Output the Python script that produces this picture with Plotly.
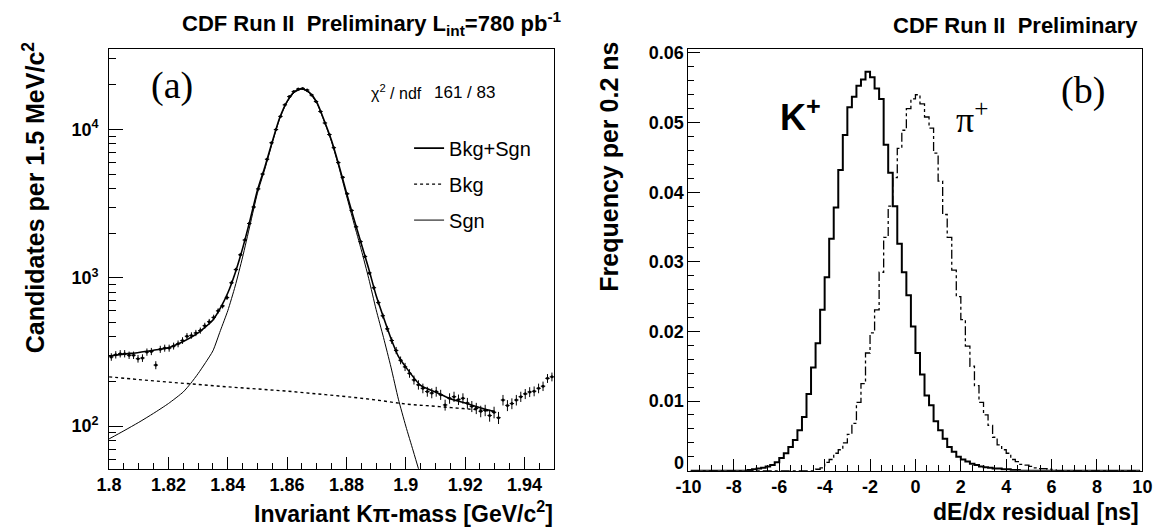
import numpy as np
import plotly.graph_objects as go

# ---------------- (a) D0 -> K pi invariant mass ----------------
mass_lo = 1.8
mass_bw = 0.0015
counts = [293, 303, 308, 308, 301, 301, 285, 288, 316, 319,
          258, 330, 336, 336, 347, 359, 378, 404, 409, 425,
          441, 476, 506, 541, 599, 647, 736, 926, 1137, 1430,
          1800, 2326, 3005, 3981, 5012, 6310, 8150, 10000, 12270, 14680,
          16680, 18030, 18760, 18950, 18480, 17110, 15450, 13240, 11080, 9260,
          7550, 5990, 4770, 3690, 2850, 2210, 1755, 1394, 1080, 858,
          681, 555, 453, 378, 324, 278, 251, 227, 205, 190,
          180, 171, 167, 171, 163, 139, 154, 158, 151, 154,
          143, 136, 132, 126, 128, 118, 124, 114, 150, 138,
          142, 150, 158, 165, 170, 172, 180, 186, 210, 215]

tot_mass = [1.800, 1.805, 1.810, 1.815, 1.820, 1.825, 1.830, 1.835, 1.8375, 1.840,
            1.8425, 1.845, 1.8475, 1.850, 1.8525, 1.855, 1.8575, 1.860, 1.8625, 1.865,
            1.8675, 1.870, 1.8725, 1.875, 1.8775, 1.880, 1.8825, 1.885, 1.8875, 1.890,
            1.8925, 1.895, 1.8975, 1.900, 1.905, 1.910, 1.915, 1.920, 1.925, 1.930]
tot_vals = [297, 306, 314, 325, 338, 372, 425, 520, 625, 790,
            1080, 1580, 2450, 3900, 5600, 8300, 12000, 15500, 18000, 18900,
            17800, 15300, 11500, 8400, 5700, 3750, 2500, 1700, 1150, 760,
            540, 390, 295, 250, 188, 170, 153, 143, 133, 125]

bkg_mass = [1.800, 1.810, 1.820, 1.830, 1.840, 1.850, 1.860, 1.870, 1.880, 1.890,
            1.900, 1.910, 1.920, 1.930]
bkg_vals = [215, 206, 198, 191, 184, 178, 172, 165, 158, 150, 141, 136, 131, 126]

sig_mass = [1.800, 1.805, 1.810, 1.815, 1.820, 1.825, 1.8275, 1.830, 1.8325, 1.835,
            1.8375, 1.840, 1.8425, 1.845, 1.8475, 1.850, 1.8525, 1.855, 1.8575, 1.860,
            1.8625, 1.865, 1.8675, 1.870, 1.8725, 1.875, 1.8775, 1.880, 1.8825, 1.885,
            1.8875, 1.890, 1.8925, 1.895, 1.8975, 1.900, 1.9025, 1.905]
sig_vals = [82, 93, 106, 122, 142, 170, 194, 226, 268, 322,
            440, 600, 880, 1380, 2270, 3720, 5420, 8120, 11820, 15330,
            17830, 18730, 17640, 15040, 11340, 8240, 5540, 3590, 2340, 1545,
            990, 610, 395, 250, 152, 100, 68, 46]

mass_tickvals = [1.8, 1.82, 1.84, 1.86, 1.88, 1.9, 1.92, 1.94]
mass_ticktext = ["1.8", "1.82", "1.84", "1.86", "1.88", "1.9", "1.92", "1.94"]

# ---------------- (b) dE/dx residual ----------------
dedx_lo = -10.0
dedx_bw = 0.2
kaon_freq = [0]*13 + [
    0.0001, 0.0002, 0.0003, 0.0004, 0.0006, 0.0008, 0.0012, 0.0018, 0.0025, 0.0034,
    0.0044, 0.0058, 0.0077, 0.0110, 0.0148, 0.0183, 0.0231, 0.0278, 0.0333, 0.0378,
    0.0432, 0.0482, 0.0522, 0.0537, 0.0553, 0.0562, 0.0573, 0.0565, 0.0549, 0.0534,
    0.0468, 0.0428, 0.0380, 0.0326, 0.0285, 0.0252, 0.0207, 0.0169, 0.0138, 0.0108,
    0.0094, 0.0071, 0.0058, 0.0046, 0.0034, 0.0027, 0.0020, 0.0016, 0.0013, 0.0010,
    0.0008, 0.0006, 0.0005, 0.0004, 0.0003, 0.0003, 0.0002, 0.0002, 0.0001, 0.0001] + [0]*27
pion_freq = [0]*28 + [
    0.0002, 0.0004, 0.0012, 0.0016, 0.0025, 0.0030, 0.0040, 0.0052, 0.0068, 0.0098,
    0.0125, 0.0169, 0.0198, 0.0231, 0.0285, 0.0335, 0.0380, 0.0421, 0.0463, 0.0489,
    0.0520, 0.0534, 0.0540, 0.0527, 0.0508, 0.0492, 0.0456, 0.0416, 0.0368, 0.0335,
    0.0288, 0.0250, 0.0217, 0.0179, 0.0150, 0.0122, 0.0098, 0.0080, 0.0065, 0.0048,
    0.0037, 0.0030, 0.0025, 0.0016, 0.0013, 0.0009, 0.0008, 0.0006, 0.0004, 0.0003,
    0.0003, 0.0002, 0.0001] + [0]*19

dedx_tickvals = [-10, -8, -6, -4, -2, 0, 2, 4, 6, 8, 10]
dedx_ticktext = ["-10", "-8", "-6", "-4", "-2", "0", "2", "4", "6", "8", "10"]
freq_tickvals = [0.01, 0.02, 0.03, 0.04, 0.05, 0.06]
freq_ticktext = ["0.01", "0.02", "0.03", "0.04", "0.05", "0.06"]
freq_zero_label = "0"

# ---------------------------------------------------------------
mass_x = [mass_lo + (i + 0.5) * mass_bw for i in range(len(counts))]
dedx_x = [dedx_lo + (i + 0.5) * dedx_bw for i in range(len(kaon_freq))]

SANS = "Liberation Sans"
SERIF = "Liberation Serif"

fig = go.Figure()

fig.add_trace(go.Scatter(
    x=mass_x, y=counts, mode="markers", showlegend=False,
    marker=dict(color="black", size=3),
    error_y=dict(type="data", array=list(np.sqrt(counts)), color="black", thickness=1, width=0),
    error_x=dict(type="constant", value=mass_bw / 2, color="black", thickness=1, width=0),
    xaxis="x", yaxis="y"))
fig.add_trace(go.Scatter(
    x=tot_mass, y=tot_vals, mode="lines", name="Bkg+Sgn", legendgroup="a",
    line=dict(color="black", width=1.6, shape="spline", smoothing=0.6),
    xaxis="x", yaxis="y"))
fig.add_trace(go.Scatter(
    x=bkg_mass, y=bkg_vals, mode="lines", name="Bkg", legendgroup="b",
    line=dict(color="black", width=1.4, dash="dot", shape="spline"),
    xaxis="x", yaxis="y"))
fig.add_trace(go.Scatter(
    x=sig_mass, y=sig_vals, mode="lines", name="Sgn", legendgroup="c",
    line=dict(color="black", width=1.0, shape="spline", smoothing=0.6),
    xaxis="x", yaxis="y"))

fig.add_trace(go.Scatter(
    x=dedx_x, y=pion_freq, mode="lines", showlegend=False,
    line=dict(color="black", width=1.3, dash="dashdot", shape="hvh"),
    xaxis="x2", yaxis="y2"))
fig.add_trace(go.Scatter(
    x=dedx_x, y=kaon_freq, mode="lines", showlegend=False,
    line=dict(color="black", width=2, shape="hvh"),
    xaxis="x2", yaxis="y2"))

W, H = 1172, 527
def px(x):
    return x / W
def py(y):
    return 1 - y / H

tickfont = dict(family=SANS, size=18, color="black", weight="bold")
common = dict(showline=True, linecolor="black", linewidth=1, mirror=True,
              showgrid=False, zeroline=False, ticks="inside", tickcolor="black",
              tickfont=tickfont)

fig.update_layout(
    width=W, height=H, margin=dict(l=0, r=0, t=0, b=0),
    paper_bgcolor="white", plot_bgcolor="white",
    font=dict(family=SANS, color="black"),
    xaxis=dict(domain=[px(98), px(552)], range=[1.8, 1.95], anchor="y",
               tickvals=mass_tickvals, ticktext=mass_ticktext, ticklen=12,
               minor=dict(dtick=0.005, tick0=1.8, ticklen=6, ticks="inside", tickcolor="black"),
               **common),
    yaxis=dict(domain=[py(468), py(44)], type="log", range=[1.713, 4.54], anchor="x",
               tickvals=[100, 1000, 10000],
               ticktext=["10<sup>2</sup>", "10<sup>3</sup>", "10<sup>4</sup>"],
               ticklen=14, ticklabelstandoff=6,
               minor=dict(ticklen=7, ticks="inside", tickcolor="black", dtick="D1"),
               **common),
    xaxis2=dict(domain=[px(689), px(1152)], range=[-10, 10], anchor="y2",
                tickvals=dedx_tickvals, ticktext=dedx_ticktext, ticklen=12,
                minor=dict(dtick=0.5, tick0=-10, ticklen=6, ticks="inside", tickcolor="black"),
                **common),
    yaxis2=dict(domain=[py(470), py(44)], range=[0, 0.0605], anchor="x2",
                tickvals=freq_tickvals, ticktext=freq_ticktext, ticklen=12,
                minor=dict(dtick=0.002, tick0=0, ticklen=6, ticks="inside", tickcolor="black"),
                **common),
    legend=dict(x=px(404), y=py(124), xanchor="left", yanchor="top",
                bgcolor="rgba(0,0,0,0)", borderwidth=0, tracegroupgap=7,
                font=dict(family=SANS, size=20, color="black"), itemwidth=30),
)

ann = []
def add(text, x, y, size, xanchor="center", yanchor="middle", family=SANS, bold=False, angle=0):
    ann.append(dict(text=text, x=px(x), y=py(y), xref="paper", yref="paper",
                    xanchor=xanchor, yanchor=yanchor, showarrow=False, textangle=angle,
                    font=dict(family=family, size=size, color="black",
                              weight="bold" if bold else "normal")))

add("CDF Run II\u00a0 Preliminary L<sub>int</sub>=780 pb<sup>-1</sup>", 562, 18, 22, xanchor="right", bold=True)
add("CDF Run II\u00a0 Preliminary", 1150, 20, 22, xanchor="right", bold=True)
add("Invariant K\u03c0-mass [GeV/c<sup>2</sup>]", 553, 512, 23, xanchor="right", bold=True)
add("dE/dx residual [ns]", 1151, 512, 23, xanchor="right", bold=True)
add("Candidates per 1.5 MeV/c<sup>2</sup>", 21, 34, 25, yanchor="top", bold=True, angle=-90)
add("Frequency per 0.2 ns", 608, 34, 25, yanchor="top", bold=True, angle=-90)
add("(a)", 162, 80, 38, family=SERIF)
add("(b)", 1091, 85, 38, family=SERIF)
add("K<sup>+</sup>", 803, 110, 36, bold=True)
add("\u03c0<sup>+</sup>", 978, 113, 36, family=SERIF)
add("\u03c7<sup>2</sup> / ndf", 363, 87, 16, xanchor="left")
add("161 / 83", 427, 88, 17, xanchor="left")
add(freq_zero_label, 686, 462, 18, xanchor="right", bold=True)
fig.update_layout(annotations=ann)

fig.write_html(
    "out.html",
    config={"displayModeBar": False},
    post_script="document.documentElement.style.margin='0';document.body.style.margin='0';"
                "document.body.style.overflow='hidden';window.scrollTo(0,0);")
